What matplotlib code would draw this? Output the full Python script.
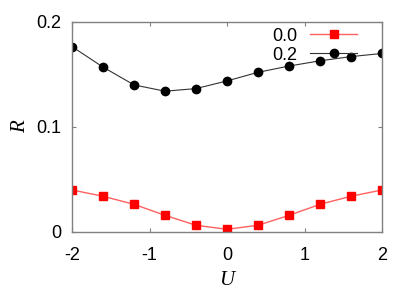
import matplotlib
matplotlib.use("Agg")
import matplotlib.pyplot as plt

plt.rcParams["font.family"] = ["Liberation Sans", "DejaVu Sans"]
plt.rcParams["axes.unicode_minus"] = False

U = [-2.0, -1.6, -1.2, -0.8, -0.4, 0.0, 0.4, 0.8, 1.2, 1.6, 2.0]
R_00 = [0.0398, 0.0338, 0.0261, 0.0156, 0.0061, 0.0023, 0.0061, 0.0156, 0.0261, 0.0338, 0.0398]
R_02 = [0.1765, 0.157, 0.140, 0.134, 0.1365, 0.1438, 0.152, 0.158, 0.163, 0.167, 0.170]

xticks = [-2, -1, 0, 1, 2]
yticks = [0, 0.1, 0.2]
ytick_labels = ["0", "0.1", "0.2"]

fig = plt.figure(figsize=(4.15, 2.91), dpi=100)
ax = fig.add_axes([0.1735, 0.2038, 0.747, 0.7206])

ax.plot(U, R_00, color="#ff6060", lw=1.0, marker="s", ms=6,
        mfc="#ff0000", mec="#ff0000", label="0.0")
ax.plot(U, R_02, color="#333333", lw=0.8, marker="o", ms=6,
        mfc="black", mec="black", label="0.2")

ax.set_xlim(-2, 2)
ax.set_ylim(0, 0.2)
ax.set_xticks(xticks)
ax.set_xticklabels([str(t) for t in xticks])
ax.set_yticks(yticks)
ax.set_yticklabels(ytick_labels)

for s in ax.spines.values():
    s.set_color("#808080")
    s.set_linewidth(1.0)
ax.tick_params(direction="in", length=3, width=0.8, color="#808080",
               top=True, right=True, labelsize=13, labelcolor="black")
ax.tick_params(axis="x", pad=11)
ax.tick_params(axis="y", pad=8)

ax.set_xlabel("U", family="Liberation Serif", style="italic", fontsize=15, labelpad=5)
ax.set_ylabel("R", family="Liberation Serif", style="italic", fontsize=15, labelpad=4)

ax.legend(loc="upper right", bbox_to_anchor=(0.955, 1.025), frameon=False,
          markerfirst=False, fontsize=13, handlelength=2.6, handletextpad=0.7,
          labelspacing=0.12, borderaxespad=0.2)

fig.savefig("out.png", dpi=100)
